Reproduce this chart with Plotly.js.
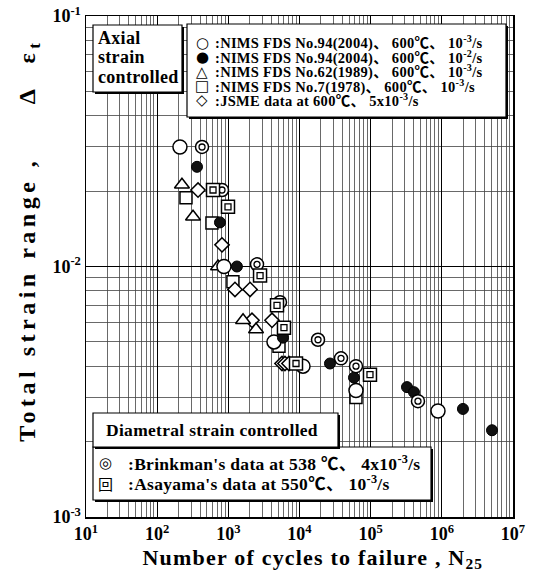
<!DOCTYPE html>
<html>
<head>
<meta charset="utf-8">
<script src="https://cdn.plot.ly/plotly-3.0.1.min.js"></script>
<style>
html,body{margin:0;padding:0;background:#fff}
#chart{width:538px;height:577px}
.xtitle{letter-spacing:1.2px}
.ytitle{letter-spacing:4.5px}
.annotation-text{letter-spacing:0.3px}
</style>
</head>
<body>
<div id="chart"></div>
<script>
// ---- data (cycles to failure N25, total strain range) ----
const nims94a_N = [209, 869, 4380, 11200, 62200, 883000];
const nims94a_E = [0.030, 0.0100, 0.0050, 0.0040, 0.0032, 0.00265];

const nims94b_N = [363, 763, 1320, 5860, 26800, 58300, 324000, 406000, 1980000, 5070000];
const nims94b_E = [0.025, 0.015, 0.0100, 0.0052, 0.0041, 0.0036, 0.0033, 0.00315, 0.0027, 0.00222];

const nims62_N = [223, 319, 716, 1610, 2450];
const nims62_E = [0.0212, 0.0158, 0.0100, 0.0061, 0.0056];

const nims7_N = [254, 589, 1160, 5150, 62200];
const nims7_E = [0.0188, 0.0149, 0.0087, 0.0048, 0.0030];

const jsme_N = [375, 815, 1240, 2020, 2150, 4110, 5680, 6250, 7110];
const jsme_E = [0.0202, 0.0122, 0.0081, 0.0081, 0.0061, 0.0061, 0.0041, 0.0041, 0.0041];

const brink_N = [427, 815, 2530, 5320, 18200, 38300, 62200, 462000];
const brink_E = [0.030, 0.0202, 0.0102, 0.0072, 0.0051, 0.0043, 0.0040, 0.0029];

const asa_N = [609, 989, 2790, 4830, 6050, 8930, 97800];
const asa_E = [0.0202, 0.0173, 0.0092, 0.0070, 0.0057, 0.0041, 0.0037];

// ---- tick labels ----
const xTickVals = [1e1, 1e2, 1e3, 1e4, 1e5, 1e6, 1e7];
const xTickText = ["10<sup>1</sup>", "10<sup>2</sup>", "10<sup>3</sup>", "10<sup>4</sup>", "10<sup>5</sup>", "10<sup>6</sup>", "10<sup>7</sup>"];
const yTickVals = [1e-3, 1e-2, 1e-1];
const yTickText = ["10<sup>-3</sup>", "10<sup>-2</sup>", "10<sup>-1</sup>"];

// ---- titles and legend texts ----
const NB = "\u00A0", ZW = "\u200B";
const xTitle = ZW + NB.repeat(4) + "Number of cycles to failure , N<sub>25</sub>";
const yTitle = ZW + NB.repeat(5) + "Total strain range ," + NB.repeat(5) + "Δ" + NB.repeat(2) + "ε<sub>t</sub>";
const axialLines = ["Axial", "strain", "controlled"];
const axialSymbols = ["○", "●", "△", "□", "◇"];
const axialTexts = [
  ":NIMS FDS No.94(2004)、 600℃、 10<sup>-3</sup>/s",
  ":NIMS FDS No.94(2004)、 600℃、 10<sup>-2</sup>/s",
  ":NIMS FDS No.62(1989)、 600℃、 10<sup>-3</sup>/s",
  ":NIMS FDS No.7(1978)、 600℃、 10<sup>-3</sup>/s",
  ":JSME data at 600℃、 5x10<sup>-3</sup>/s"
];
const diamLabel = "Diametral strain controlled";
const diamSymbols = ["◎", "回"];
const diamTexts = [
  ":Brinkman's data at 538 ℃、 4x10<sup>-3</sup>/s",
  ":Asayama's data at 550℃、 10<sup>-3</sup>/s"
];

const FONT = "Liberation Serif, Times New Roman, Noto Sans CJK JP, serif";
const SYMFONT = "DejaVu Sans, Noto Sans CJK JP, sans-serif";

function minorVals(lo, hi) {
  const v = [];
  for (let e = lo; e < hi; e++) for (let d = 2; d <= 9; d++) v.push(d * Math.pow(10, e));
  return v;
}

function mk(x, y, symbol, size, fill, lw) {
  return {x: x, y: y, type: "scatter", mode: "markers", hoverinfo: "x+y",
    marker: {symbol: symbol, size: size, color: fill, line: {color: "#000", width: lw}}};
}

const traces = [
  mk(nims7_N, nims7_E, "square", 12, "#fff", 1.5),
  mk(jsme_N, jsme_E, "diamond", 11, "#fff", 1.5),
  mk(nims62_N, nims62_E, "triangle-up", 13, "#fff", 1.5),
  mk(nims94a_N, nims94a_E, "circle", 14, "#fff", 1.5),
  mk(nims94b_N, nims94b_E, "circle", 11, "#111", 1),
  mk(brink_N, brink_E, "circle", 13, "#fff", 1.5),
  mk(brink_N, brink_E, "circle-open", 6, "#000", 1.3),
  mk(asa_N, asa_E, "square", 13, "#fff", 1.5),
  mk(asa_N, asa_E, "square-open", 6, "#000", 1.3)
];

// pixel -> paper helpers for legend boxes (plot area: x 86..513, y 16..517)
const PX = p => (p - 86) / 427;
const PY = p => (517 - p) / 501;

function box(x0, y0, x1, y1) {
  return [
    {type: "rect", xref: "paper", yref: "paper", layer: "above",
     x0: PX(x0 + 2), x1: PX(x1 + 2), y0: PY(y1 + 2), y1: PY(y0 + 2),
     fillcolor: "#000", line: {width: 0}},
    {type: "rect", xref: "paper", yref: "paper", layer: "above",
     x0: PX(x0), x1: PX(x1), y0: PY(y1), y1: PY(y0),
     fillcolor: "#fff", line: {color: "#000", width: 1.2}}
  ];
}

const shapes = [].concat(
  box(93, 25, 182, 92),
  box(187, 24, 506, 117),
  box(93, 447, 431, 500),
  box(93, 413, 338, 447)
);

function ann(x, y, xanchor, text, font) {
  return {xref: "paper", yref: "paper", x: PX(x), y: PY(y), xanchor: xanchor, yanchor: "middle",
    text: text, showarrow: false, font: font};
}
const bold = size => ({family: FONT, size: size, color: "#000", weight: "bold"});

const annotations = [];
const axialLineY = [38, 57.5, 77];
axialLines.forEach((t, i) => annotations.push(ann(96, axialLineY[i], "left", t, bold(18))));
const axialY = [43, 57.5, 72, 86, 100];
axialSymbols.forEach((s, i) => {
  annotations.push(ann(202, axialY[i], "center", s, {family: SYMFONT, size: 15, color: "#000"}));
  annotations.push(ann(212.5, axialY[i], "left", axialTexts[i], bold(14.5)));
});
annotations.push(ann(212, 430, "center", diamLabel, bold(17.5)));
const diamY = [463, 483];
diamSymbols.forEach((s, i) => {
  annotations.push(ann(105, diamY[i], "center", s,
    {family: i === 0 ? SYMFONT : "Noto Sans CJK JP", size: 15, color: "#000"}));
  annotations.push(ann(126, diamY[i], "left", diamTexts[i], bold(17.5)));
});

const axisCommon = {
  type: "log", showline: true, linecolor: "#000", linewidth: 1.5, mirror: true,
  showgrid: true, gridcolor: "#000", gridwidth: 1.2, zeroline: false, ticks: "",
  tickfont: {family: FONT, size: 18, color: "#000", weight: "bold"}
};

const layout = {
  width: 538, height: 577,
  margin: {l: 86, r: 25, t: 16, b: 60},
  paper_bgcolor: "#fff", plot_bgcolor: "#fff",
  showlegend: false,
  xaxis: Object.assign({}, axisCommon, {
    range: [1, 7], tickvals: xTickVals, ticktext: xTickText,
    minor: {tickvals: minorVals(1, 7), showgrid: true, gridcolor: "#444", gridwidth: 0.8, ticks: ""},
    title: {text: xTitle, standoff: 6, font: bold(22)}
  }),
  yaxis: Object.assign({}, axisCommon, {
    range: [-3, -1], tickvals: yTickVals, ticktext: yTickText,
    minor: {tickvals: minorVals(-3, -1), showgrid: true, gridcolor: "#444", gridwidth: 0.8, ticks: ""},
    title: {text: yTitle, standoff: 10, font: bold(24)}
  }),
  shapes: shapes,
  annotations: annotations
};

Plotly.newPlot("chart", traces, layout, {displayModeBar: false, staticPlot: true});
</script>
</body>
</html>
